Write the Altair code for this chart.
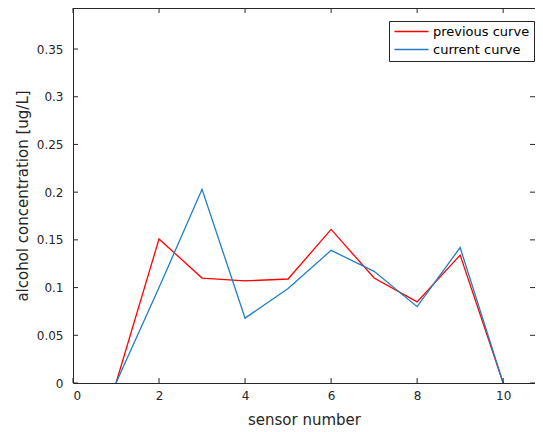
import altair as alt
import pandas as pd

sensors = [1, 2, 3, 4, 5, 6, 7, 8, 9, 10]
previous_curve = [0.0, 0.151, 0.110, 0.107, 0.109, 0.161, 0.110, 0.085, 0.134, 0.0]
current_curve = [0.0, 0.100, 0.203, 0.068, 0.099, 0.139, 0.117, 0.080, 0.142, 0.0]
series_names = ["previous curve", "current curve"]
series_colors = ["#FF0000", "#1F7FC4"]
x_ticks = [0, 2, 4, 6, 8, 10]
y_ticks = [0, 0.05, 0.1, 0.15, 0.2, 0.25, 0.3, 0.35]

rows = []
for s, p, c in zip(sensors, previous_curve, current_curve):
    rows.append({"sensor": s, "value": p, "series": series_names[0]})
    rows.append({"sensor": s, "value": c, "series": series_names[1]})
df = pd.DataFrame(rows)

W, H = 462, 375
AX = "#262626"
FONT = "DejaVu Sans"

xscale = alt.Scale(domain=[0, 10.74], nice=False, zero=False)
yscale = alt.Scale(domain=[0, 0.393], nice=False, zero=False)

axis_style = dict(labelFont=FONT, titleFont=FONT, labelColor=AX, titleColor=AX,
                  domainColor=AX, domainWidth=1, titleFontWeight="normal",
                  labelFontSize=12, titleFontSize=15, ticks=False, tickSize=0, grid=False)

lines = alt.Chart(df).mark_line(strokeWidth=1.3, clip=True).encode(
    x=alt.X("sensor:Q", scale=xscale,
            axis=alt.Axis(title="sensor number", values=x_ticks, labelPadding=7,
                          titlePadding=11, format="d", **axis_style)),
    y=alt.Y("value:Q", scale=yscale,
            axis=alt.Axis(title="alcohol concentration [ug/L]", values=y_ticks,
                          labelPadding=10, titlePadding=6, format=".2~f", **axis_style)),
    color=alt.Color("series:N",
                    scale=alt.Scale(domain=series_names, range=series_colors),
                    sort=series_names,
                    legend=alt.Legend(title=None, orient="none", legendX=316, legendY=13,
                                      strokeColor=AX, fillColor="white", padding=4,
                                      symbolType="M-1,0H5.8", symbolSize=100,
                                      symbolStrokeWidth=1.5, labelOffset=27,
                                      rowPadding=4, labelFontSize=13, labelFont=FONT,
                                      labelColor="#000000")),
    detail="series:N",
)

xt = pd.DataFrame({"t": x_ticks})
yt = pd.DataFrame({"t": y_ticks})

bottom_ticks = alt.Chart(xt).mark_rule(color=AX, strokeWidth=1).encode(
    x=alt.X("t:Q", scale=xscale), y=alt.value(H), y2=alt.value(H - 5))
top_ticks = alt.Chart(xt).mark_rule(color=AX, strokeWidth=1).encode(
    x=alt.X("t:Q", scale=xscale), y=alt.value(0), y2=alt.value(5))
left_ticks = alt.Chart(yt).mark_rule(color=AX, strokeWidth=1).encode(
    y=alt.Y("t:Q", scale=yscale), x=alt.value(0), x2=alt.value(5))
right_ticks = alt.Chart(yt).mark_rule(color=AX, strokeWidth=1).encode(
    y=alt.Y("t:Q", scale=yscale), x=alt.value(W), x2=alt.value(W - 5))
top_border = alt.Chart(xt).mark_rule(color=AX, strokeWidth=1).encode(
    x=alt.value(0), x2=alt.value(W), y=alt.value(0))

chart = alt.layer(lines, bottom_ticks, top_ticks, left_ticks, right_ticks, top_border).properties(
    width=W, height=H,
    background="white",
    autosize=alt.AutoSizeParams(type="none"),
    padding={"left": 65, "top": 0, "right": 0, "bottom": 45},
).configure_view(stroke=None)

chart.save("out.html", embed_options={"renderer": "svg", "actions": False})
